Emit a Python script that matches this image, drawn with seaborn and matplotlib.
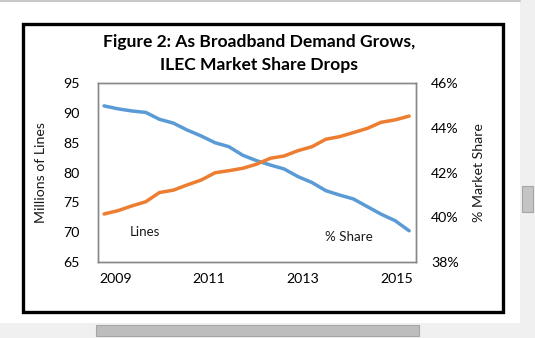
import matplotlib
matplotlib.use("Agg")
import matplotlib.pyplot as plt
import seaborn as sns
import pandas as pd
from matplotlib.patches import Rectangle
from matplotlib.lines import Line2D

# Reporting periods (decimal years) and the two series
periods = [2008.76, 2009.06, 2009.35, 2009.65, 2009.94, 2010.24, 2010.53, 2010.83,
           2011.13, 2011.42, 2011.72, 2012.01, 2012.31, 2012.60, 2012.90, 2013.20,
           2013.49, 2013.79, 2014.08, 2014.38, 2014.67, 2014.97, 2015.27]
lines_millions = [91.2, 90.7, 90.35, 90.1, 88.95, 88.3, 87.15, 86.15, 85.0, 84.35,
                  82.9, 82.0, 81.25, 80.6, 79.3, 78.3, 76.95, 76.2, 75.55, 74.25,
                  73.0, 71.9, 70.2]
share_pct = [40.14, 40.29, 40.50, 40.69, 41.10, 41.21, 41.44, 41.66, 41.99, 42.08,
             42.19, 42.37, 42.64, 42.74, 42.98, 43.16, 43.49, 43.61, 43.79, 43.98,
             44.25, 44.36, 44.53]
year_ticks = [2009, 2011, 2013, 2015]
lines_ticks = [65, 70, 75, 80, 85, 90, 95]
share_ticks = [38, 40, 42, 44, 46]

sns.set_theme(style="white")
plt.rcParams['font.family'] = ['Lato', 'DejaVu Sans']

W, H = 535, 338
fig = plt.figure(figsize=(W / 100, H / 100), dpi=100)
fig.patch.set_facecolor("white")

def fx(px):
    return px / W

def fy(py):
    return 1 - py / H

# window chrome: side and bottom panels with scroll bars
fig.patches.append(Rectangle((fx(520), 0), 1 - fx(520), 1, transform=fig.transFigure,
                             facecolor="#f0f0f0", edgecolor="none", zorder=0))
fig.patches.append(Rectangle((0, 0), 1, fy(322.7), transform=fig.transFigure,
                             facecolor="#f0f0f0", edgecolor="none", zorder=0))
fig.patches.append(Rectangle((fx(96), fy(335.5)), fx(419) - fx(96), fy(325) - fy(335.5),
                             transform=fig.transFigure, facecolor="#bdbdbd",
                             edgecolor="#a6a6a6", lw=0.8, zorder=1))
fig.patches.append(Rectangle((fx(522), fy(211.7)), fx(533) - fx(522), fy(185.7) - fy(211.7),
                             transform=fig.transFigure, facecolor="#c4c4c4",
                             edgecolor="#a6a6a6", lw=0.8, zorder=1))
fig.lines.append(Line2D([0, fx(520)], [fy(0.6), fy(0.6)], transform=fig.transFigure,
                        color="#c8c8c8", lw=1.5))

# chart border
fig.patches.append(Rectangle((fx(22.5), fy(312.3)), fx(503.4) - fx(22.5), fy(24) - fy(312.3),
                             transform=fig.transFigure, facecolor="none",
                             edgecolor="black", lw=2.4, zorder=2))

df = pd.DataFrame({"period": periods, "lines": lines_millions, "share": share_pct})

ax = fig.add_axes([fx(98), fy(261.7), fx(415.7) - fx(98), fy(83.3) - fy(261.7)])
sns.lineplot(data=df, x="period", y="lines", ax=ax, color="#5B9BD5", lw=2.5)
ax2 = ax.twinx()
sns.lineplot(data=df, x="period", y="share", ax=ax2, color="#ED7D31", lw=2.5)

ax.set_xlim(2008.63, 2015.41)
ax.set_ylim(65, 95)
ax2.set_ylim(38, 46)
ax.set_xticks(year_ticks)
ax.set_xticklabels([str(y) for y in year_ticks])
ax.set_yticks(lines_ticks)
ax2.set_yticks(share_ticks)
ax2.set_yticklabels([f"{v}%" for v in share_ticks])

tick_fs = 10.2
ax.tick_params(axis="y", length=0, pad=13.5, labelsize=tick_fs, labelcolor="black")
ax.tick_params(axis="x", length=0, pad=8, labelsize=tick_fs, labelcolor="black")
ax2.tick_params(axis="y", length=0, pad=11, labelsize=tick_fs, labelcolor="black")

for a in (ax, ax2):
    for s in a.spines.values():
        s.set_color("#888888")
        s.set_linewidth(1.0)
    a.grid(False)

ax.set_xlabel("")
ax.set_ylabel("Millions of Lines", fontsize=10.2, color="#1a1a1a")
ax2.set_ylabel("% Market Share", fontsize=10.2, color="#1a1a1a")
ax.yaxis.set_label_coords(-0.161, 0.497)
ax2.yaxis.set_label_coords(1.179, 0.497)

fig.text(fx(259.4), fy(42.3), "Figure 2: As Broadband Demand Grows,", ha="center",
         va="center", fontsize=12.6, fontweight="bold", color="black")
fig.text(fx(259.4), fy(65.0), "ILEC Market Share Drops", ha="center",
         va="center", fontsize=12.6, fontweight="bold", color="black")

ax.text(fx(144.7), fy(232.3), "Lines", transform=fig.transFigure, ha="center",
        va="center", fontsize=9.6, color="#1a1a1a")
ax.text(fx(348.9), fy(237.3), "% Share", transform=fig.transFigure, ha="center",
        va="center", fontsize=9.6, color="#1a1a1a")

fig.savefig("out.png", dpi=100)
